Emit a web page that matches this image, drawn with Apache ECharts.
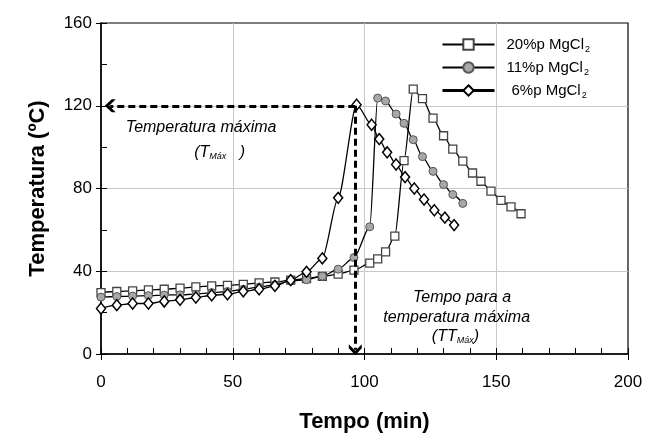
<!DOCTYPE html>
<html>
<head>
<meta charset="utf-8">
<script src="https://cdn.jsdelivr.net/npm/echarts@6/dist/echarts.min.js"></script>
<style>html,body{margin:0;padding:0;background:#fff}#c{width:649px;height:438px}</style>
</head>
<body>
<div id="c"></div>
<script>
// ---- data ----
const seriesNames = ['20%p MgCl2', '11%p MgCl2', '6%p MgCl2'];
const t20 = [0,6,12,18,24,30,36,42,48,54,60,66,72,78,84,90,96,102,105,108,111.5,115,118.5,122,126,130,133.5,137.3,141,144.2,148,151.8,155.6,159.4];
const v20 = [29.7,30.2,30.5,31,31.3,31.8,32.4,32.9,33.2,33.7,34.4,34.8,35.7,36.5,37.5,38.6,40.5,43.9,46,49.4,57,93.5,128,123.4,114,105.5,99,93.2,87.5,83.5,78.7,74.3,71.1,67.8];
const t11 = [0,6,12,18,24,30,36,42,48,54,60,66,72,78,84,90,96,102,105,108,112,115,118.5,122,126,130,133.5,137.3];
const v11 = [27.5,27.8,28,28.2,28.5,28.6,28.9,29.7,30.2,31.3,32.3,33.5,35.3,35.9,37.6,41,46.6,61.5,123.7,122.3,116,111.5,103.6,95.4,88.3,81.9,77.1,72.8];
const t6 = [0,6,12,18,24,30,36,42,48,54,60,66,72,78,84,90,97,102.7,105.6,108.6,112,115.4,118.9,122.6,126.5,130.5,134];
const v6 = [22,23.6,24.4,24.4,25.4,26.2,27.3,28.4,28.9,30.3,31.3,32.9,35.7,39.7,46.2,75.5,120.5,110.8,103.9,97.5,91.6,85.5,80,74.7,69.5,65.9,62.3];
const xTicks = [0, 200, 50];   // min, max, interval
const yTicks = [0, 160, 40];
// annotation (data coordinates)
const peakT = 96.5, peakV = 120;
const hArrowEnd = [3.5, 120];
const vArrowEnd = [96.5, 2];

const FONT = "'Liberation Sans', Arial, sans-serif";
const zip = (a, b) => a.map((x, i) => [x, b[i]]);
const chevron = 'path://M6,0 L12,7 L12,11 L6,4.5 L0,11 L0,7 Z';

const chart = echarts.init(document.getElementById('c'), null, {renderer: 'canvas'});

const commonAxis = {
  axisLine: {show: true, lineStyle: {color: '#000', width: 1.5}},
  splitLine: {show: true, showMinLine: false, showMaxLine: false, lineStyle: {color: '#c8c8c8', width: 1}},
};

const option = {
  animation: false,
  backgroundColor: '#fff',
  textStyle: {fontFamily: FONT},
  grid: {left: 101, right: 21, top: 23, bottom: 83, show: true, borderColor: '#000', borderWidth: 1.2, backgroundColor: 'transparent'},
  legend: {
    orient: 'vertical', left: 436, top: 32, itemWidth: 52, itemHeight: 13, itemGap: 6,
    data: [
      {name: seriesNames[0], textStyle: {padding: [0,0,0,7]}, lineStyle: {width: 2}},
      {name: seriesNames[1], textStyle: {padding: [0,0,0,7]}, lineStyle: {width: 2}},
      {name: seriesNames[2], textStyle: {padding: [0,0,0,12]}, lineStyle: {width: 3}}
    ],
    formatter: n => '{m|' + n.replace('MgCl2', 'MgCl') + '}{s|2}',
    textStyle: {
      fontFamily: FONT, fontSize: 15, color: '#000',
      rich: {m: {fontSize: 15, fontFamily: FONT, color: '#000'}, s: {fontSize: 9, fontFamily: FONT, color: '#000', verticalAlign: 'bottom', padding: [10,0,0,1]}}
    }
  },
  xAxis: [
    Object.assign({}, commonAxis, {
      type: 'value', min: xTicks[0], max: xTicks[1], interval: xTicks[2], position: 'bottom',
      axisTick: {show: true, inside: true, length: 6, lineStyle: {color: '#000', width: 1}},
      minorTick: {show: true, splitNumber: 5, length: 6, lineStyle: {color: '#000', width: 1}},
      axisLabel: {fontSize: 17, color: '#000', margin: 20, fontFamily: FONT},
      name: 'Tempo (min)', nameLocation: 'middle', nameGap: 57,
      nameTextStyle: {fontSize: 22, fontWeight: 'bold', color: '#000', fontFamily: FONT}
    }),
    {
      type: 'value', min: xTicks[0], max: xTicks[1], interval: xTicks[2], position: 'bottom',
      axisLine: {show: false}, splitLine: {show: false}, axisLabel: {show: false},
      axisTick: {show: true, inside: false, length: 6, lineStyle: {color: '#000', width: 1}}
    }
  ],
  yAxis: [
    Object.assign({}, commonAxis, {
      type: 'value', min: yTicks[0], max: yTicks[1], interval: yTicks[2], position: 'left',
      axisTick: {show: true, inside: true, length: 6, lineStyle: {color: '#000', width: 1}},
      minorTick: {show: true, splitNumber: 2, length: 6, lineStyle: {color: '#000', width: 1}},
      axisLabel: {fontSize: 17, color: '#000', margin: 9, fontFamily: FONT},
      name: 'Temperatura (ºC)', nameLocation: 'middle', nameGap: 52,
      nameTextStyle: {fontSize: 22, fontWeight: 'bold', color: '#000', fontFamily: FONT}
    }),
    {
      type: 'value', min: yTicks[0], max: yTicks[1], interval: yTicks[2], position: 'left',
      axisLine: {show: false}, splitLine: {show: false}, axisLabel: {show: false},
      axisTick: {show: true, inside: false, length: 5, lineStyle: {color: '#000', width: 1}}
    }
  ],
  series: [
    {
      name: seriesNames[0], type: 'line', data: zip(t20, v20), smooth: 0.25, smoothMonotone: 'x',
      symbol: 'rect', symbolSize: 8,
      lineStyle: {color: '#000', width: 1.3},
      itemStyle: {color: '#fff', borderColor: '#444', borderWidth: 1.3},
      z: 3
    },
    {
      name: seriesNames[1], type: 'line', data: zip(t11, v11), smooth: 0.25, smoothMonotone: 'x',
      symbol: 'circle', symbolSize: 8,
      lineStyle: {color: '#000', width: 1.3},
      itemStyle: {color: '#a8a8a8', borderColor: '#555', borderWidth: 1},
      z: 3
    },
    {
      name: seriesNames[2], type: 'line', data: zip(t6, v6), smooth: 0.25, smoothMonotone: 'x',
      symbol: 'diamond', symbolSize: [9, 11],
      lineStyle: {color: '#000', width: 1.3},
      itemStyle: {color: '#fff', borderColor: '#000', borderWidth: 1.5},
      z: 4,
      markLine: {
        silent: true, animation: false,
        symbol: ['none', chevron], symbolSize: [13, 11],
        label: {show: false},
        lineStyle: {color: '#000', width: 3, type: [7, 4]},
        data: [
          [{coord: [peakT, peakV]}, {coord: hArrowEnd}],
          [{coord: [peakT, peakV]}, {coord: vArrowEnd}]
        ]
      }
    }
  ]
};
chart.setOption(option);

// annotation texts placed in data coordinates
const annot = [
  {at: [38, 109.5], text: '{i|Temperatura máxima}'},
  {at: [45, 97.5], text: '{i|(T}{s|Máx}{i|   )}'},
  {at: [137, 27.5], text: '{i|Tempo para a}'},
  {at: [135, 17.5], text: '{i|temperatura máxima}'},
  {at: [134.5, 8.5], text: '{i|(TT}{s|Máx}{i|)}'}
];
const rich = {
  i: {fontSize: 16, fontStyle: 'italic', fontFamily: FONT, color: '#000'},
  s: {fontSize: 9, fontStyle: 'italic', fontFamily: FONT, color: '#000', verticalAlign: 'bottom', padding: [9,0,0,0]}
};
chart.setOption({
  graphic: annot.map(a => {
    const p = chart.convertToPixel({gridIndex: 0}, a.at);
    return {type: 'text', x: p[0], y: p[1], z: 100, silent: true,
      style: {text: a.text, rich: rich, align: 'center', verticalAlign: 'middle', fill: '#000'}};
  })
});
</script>
</body>
</html>
